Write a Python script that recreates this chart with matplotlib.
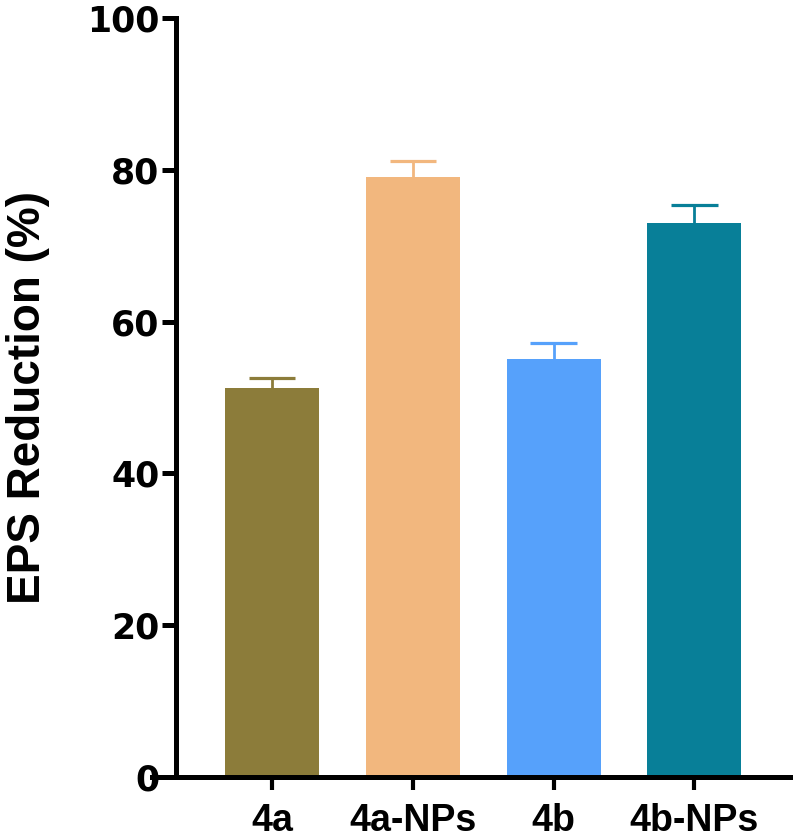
import matplotlib.pyplot as plt

# Datos
grupos = ["4a", "4a-NPs", "4b", "4b-NPs"]
reduccion = [51.3, 79.0, 55.1, 73.0]   # EPS reduction (%)
error = [1.3, 2.1, 2.1, 2.4]           # barra de error (solo hacia arriba)
colores = ["#8C7C3A", "#F2B77E", "#56A1FB", "#087F98"]

fig = plt.figure(figsize=(7.93, 8.4), dpi=100)
ax = fig.add_axes([0.1917, 0.075, 0.8045, 0.9036])

x = list(range(len(grupos)))
ax.bar(x, reduccion, width=0.668, color=colores, zorder=2)

# Barras de error: solo la mitad superior, del color de cada barra
for xi, v, e, c in zip(x, reduccion, error, colores):
    ax.vlines(xi, v, v + e, color=c, lw=2.0, zorder=1)
    ax.hlines(v + e, xi - 0.165, xi + 0.165, color=c, lw=2.3, zorder=1)

ax.set_xlim(-0.853, 3.68)
ax.set_ylim(0, 100)

# Estilo de ejes tipo GraphPad
ax.spines["top"].set_visible(False)
ax.spines["right"].set_visible(False)
ax.spines["left"].set_position(("data", -0.682))
ax.spines["left"].set_linewidth(3.6)
ax.spines["bottom"].set_linewidth(3.6)

ax.set_yticks([0, 20, 40, 60, 80, 100])
ax.set_xticks(x)
ax.set_xticklabels(grupos)
ax.tick_params(axis="y", length=10, width=3.6, pad=2)
ax.tick_params(axis="x", length=9, width=3.0, pad=10)

for lab in ax.get_yticklabels():
    lab.set_fontfamily("DejaVu Sans")
    lab.set_fontweight("bold")
    lab.set_fontsize(25)
for lab in ax.get_xticklabels():
    lab.set_fontfamily("Liberation Sans")
    lab.set_fontweight("bold")
    lab.set_fontsize(27)

ax.set_ylabel("EPS Reduction (%)", fontsize=33, fontweight="bold",
              fontfamily="Liberation Sans")
ax.yaxis.set_label_coords(-0.16, 0.5)

fig.savefig("out.png", dpi=100)
